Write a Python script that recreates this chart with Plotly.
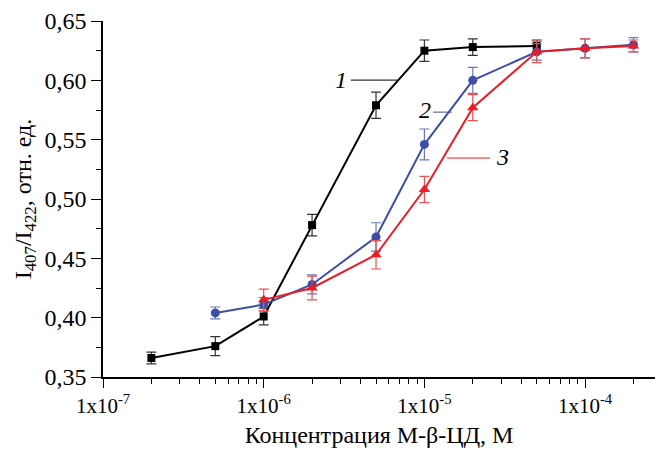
import plotly.graph_objects as go

# Data
x1 = [2e-7, 5e-7, 1e-6, 2e-6, 5e-6, 1e-5, 2e-5, 5e-5]
y1 = [0.366, 0.376, 0.401, 0.478, 0.579, 0.625, 0.628, 0.629]
e1 = [0.005, 0.008, 0.007, 0.009, 0.011, 0.009, 0.007, 0.005]

x2 = [5e-7, 1e-6, 2e-6, 5e-6, 1e-5, 2e-5, 5e-5, 1e-4, 2e-4]
y2 = [0.404, 0.411, 0.428, 0.468, 0.546, 0.600, 0.624, 0.627, 0.630]
e2 = [0.005, 0.006, 0.008, 0.012, 0.013, 0.011, 0.007, 0.008, 0.006]

x3 = [1e-6, 2e-6, 5e-6, 1e-5, 2e-5, 5e-5, 1e-4, 2e-4]
y3 = [0.415, 0.425, 0.453, 0.508, 0.577, 0.624, 0.627, 0.629]
e3 = [0.009, 0.010, 0.012, 0.011, 0.011, 0.009, 0.008, 0.005]

xticks = [1e-7, 1e-6, 1e-5, 1e-4]
xticklabels = ["1x10<sup>-7</sup>", "1x10<sup>-6</sup>", "1x10<sup>-5</sup>", "1x10<sup>-4</sup>"]
xminor = [m * 10.0 ** d for d in (-7, -6, -5, -4) for m in range(2, 10) if m * 10.0 ** d < 3e-4]

BLACK = "#000000"
BLUE = "#3d4ea6"
RED = "#ec1c24"

fig = go.Figure()

def add(x, y, e, color, ecolor, symbol, size):
    fig.add_trace(go.Scatter(
        x=x, y=y, mode="lines+markers",
        line=dict(color=color, width=2),
        marker=dict(symbol=symbol, size=size, color=color),
        error_y=dict(type="data", array=e, visible=True, color=ecolor, thickness=1.2, width=5),
        showlegend=False,
    ))

add(x1, y1, e1, BLACK, "#333333", "square", 8)
add(x2, y2, e2, BLUE, "#6a78c4", "circle", 9)
add(x3, y3, e3, RED, "#f05050", "triangle-up", 10)

font = "Liberation Serif, Times New Roman, serif"

fig.update_layout(
    width=657, height=454,
    margin=dict(l=103, r=2, t=21, b=77),
    paper_bgcolor="white", plot_bgcolor="white",
    separators=", ",
    font=dict(family=font, size=20, color="black"),
    xaxis=dict(
        type="log", range=[-7, -3.565],
        tickvals=xticks, ticktext=xticklabels,
        ticks="outside", ticklen=9, tickwidth=1.3, tickcolor="black",
        minor=dict(tickvals=xminor, ticks="outside", ticklen=5, tickwidth=1.3, tickcolor="black"),
        showline=True, linecolor="black", linewidth=1.5,
        showgrid=False, zeroline=False,
        tickfont=dict(size=21),
        title=dict(text="Концентрация М-β-ЦД, М", font=dict(size=24), standoff=9),
    ),
    yaxis=dict(
        range=[0.35, 0.65], dtick=0.05, tickformat=".2f",
        ticks="outside", ticklen=10, tickwidth=1.3, tickcolor="black",
        minor=dict(dtick=0.025, ticks="outside", ticklen=5, tickwidth=1.3, tickcolor="black"),
        showline=True, linecolor="black", linewidth=1.5,
        showgrid=False, zeroline=False,
        tickfont=dict(size=24),
        title=dict(text="I<sub>407</sub>/I<sub>422</sub>, отн. ед.", font=dict(size=24), standoff=6),
    ),
)

# curve labels with leader lines
labels = [("1", 0.431, 0.834, 0.449, 0.534, 0.834, BLACK),
          ("2", 0.583, 0.750, 0.598, 0.632, 0.744, BLUE),
          ("3", 0.723, 0.618, 0.623, 0.701, 0.615, RED)]
for txt, tx, ty, lx0, lx1, ly, col in labels:
    fig.add_annotation(x=tx, y=ty, xref="paper", yref="paper", text="<i>%s</i>" % txt,
                       xanchor="center", yanchor="middle",
                       showarrow=False, font=dict(size=24, color="black"))
    fig.add_shape(type="line", xref="paper", yref="paper", x0=lx0, x1=lx1, y0=ly, y1=ly,
                  line=dict(color=col, width=1))

fig.write_html("out.html")
